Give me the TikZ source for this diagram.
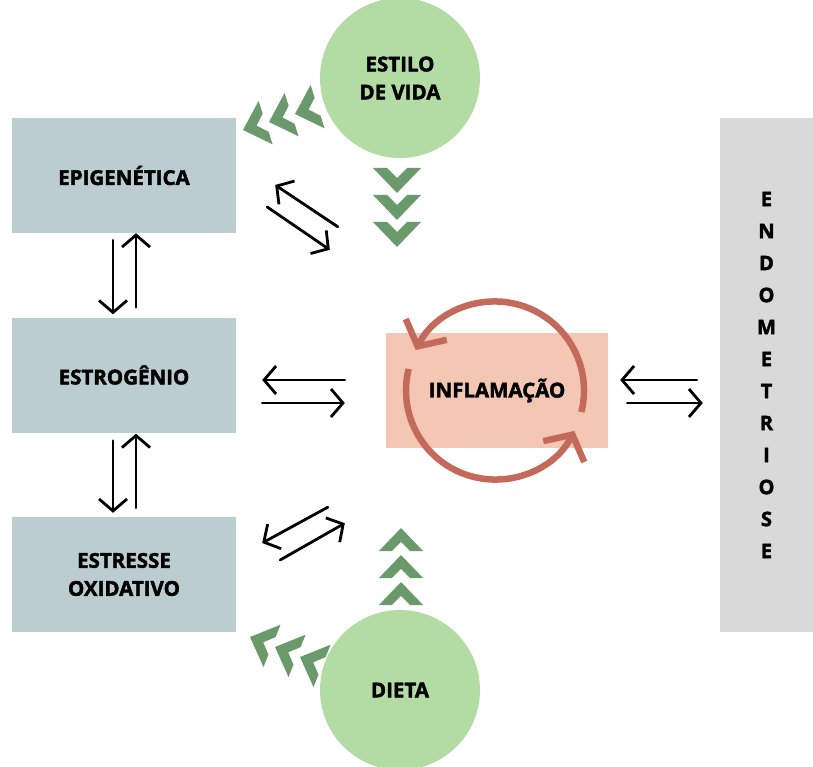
\documentclass[tikz,border=0pt]{standalone}
\usepackage{fontspec}
\setmainfont{Open Sans}
\newfontfamily\pesada{Open Sans Bold}[FakeBold=2]
\usetikzlibrary{arrows.meta}

\definecolor{azulcinza}{HTML}{BCCDD1}
\definecolor{cinzaclaro}{HTML}{D9D9D9}
\definecolor{salmao}{HTML}{F4C7B5}
\definecolor{terracota}{HTML}{C46A5B}
\definecolor{verdeclaro}{HTML}{B3DCA5}
\definecolor{verdeescuro}{HTML}{6A9A6C}

\tikzset{
  rotulo/.style={font=\pesada\fontsize{20.5}{28}\selectfont, align=center, text=black},
  caixa/.style={rotulo, fill=azulcinza, minimum width=224pt, minimum height=115pt, inner sep=0pt},
  bola/.style={rotulo, circle, fill=verdeclaro, minimum size=160pt, inner sep=0pt},
  seta/.style={line width=2.8pt, line cap=round, -{Straight Barb[length=12pt,width=28pt]}},
  ciclo/.style={line width=6.5pt, color=terracota, -{Straight Barb[length=19pt,width=46pt]}},
  chevron/.pic={
    \fill[verdeescuro] (0,0) -- (-25,24) -- (-25,10) -- (-15,0) -- (-25,-10) -- (-25,-24) -- cycle;
  }
}

\begin{document}
\begin{tikzpicture}[x=1pt,y=-1pt]
\useasboundingbox (0,0) rectangle (813,767);

% Caixas da esquerda
\node[caixa] (epi) at (124,175.5) {EPIGENÉTICA};
\node[caixa] (estro) at (124,375) {ESTROGÊNIO};
\node[caixa] (estr) at (124,574.5) {ESTRESSE\\OXIDATIVO};

% Endometriose
\node[rotulo, fill=cinzaclaro, minimum width=93pt, minimum height=514pt, inner sep=0pt,
  font=\pesada\fontsize{20}{32}\selectfont] (endo) at (766.5,375)
  {E\\N\\D\\O\\M\\E\\T\\R\\I\\O\\S\\E};

% Inflamacao
\node[rotulo, fill=salmao, minimum width=222pt, minimum height=115pt, inner sep=0pt]
  (infl) at (497,390.5) {INFLAMAÇÃO};
\coordinate (ctr) at ([xshift=-2]infl.center);
\draw[ciclo] (ctr) ++(-14:89pt) arc[start angle=-14, end angle=153, radius=89pt];
\draw[ciclo] (ctr) ++(166:89pt) arc[start angle=166, end angle=333, radius=89pt];

% Chevrons verdes
\foreach \x/\y in {243/130, 269/122, 295/114}
  \pic[rotate=198, scale=0.95] at (\x,\y) {chevron};
\foreach \x/\y in {250/637, 275/647, 300/657}
  \pic[rotate=158, scale=0.95] at (\x,\y) {chevron};
\foreach \y in {193, 220, 247}
  \pic[rotate=-90] at (397,\y) {chevron};
\foreach \y in {528, 555, 582}
  \pic[rotate=90, scale=0.92] at (401,\y) {chevron};

% Estilo de vida e dieta
\node[bola] (estilo) at (400,78) {ESTILO\\DE VIDA};
\node[bola] (dieta) at (400,690) {DIETA};

% Setas duplas
\draw[seta] ([shift={(-11,7)}]epi.south) -- ([shift={(-11,-3)}]estro.north);
\draw[seta] ([shift={(12,-10)}]estro.north) -- ([shift={(12,0)}]epi.south);
\draw[seta] ([shift={(-11,8)}]estro.south) -- ([shift={(-11,-4)}]estr.north);
\draw[seta] ([shift={(12,-9)}]estr.north) -- ([shift={(12,1)}]estro.south);

\draw[seta] ([shift={(-48,-106)}]infl.north west) -- ([shift={(39,9.5)}]epi.east);
\draw[seta] ([shift={(31,31.5)}]epi.east) -- ([shift={(-56,-83)}]infl.north west);

\draw[seta] ([shift={(-41,-10.5)}]infl.west) -- ([shift={(26,5)}]estro.east);
\draw[seta] ([shift={(26,28)}]estro.east) -- ([shift={(-41,12.5)}]infl.west);

\draw[seta] ([shift={(-58,59)}]infl.south west) -- ([shift={(26,-31.5)}]estr.east);
\draw[seta] ([shift={(44,-14.5)}]estr.east) -- ([shift={(-41,75)}]infl.south west);

\draw[seta] ([shift={(-23,5)}]endo.west) -- ([shift={(12,-10.5)}]infl.east);
\draw[seta] ([shift={(19,12.5)}]infl.east) -- ([shift={(-17,28)}]endo.west);

\end{tikzpicture}
\end{document}
